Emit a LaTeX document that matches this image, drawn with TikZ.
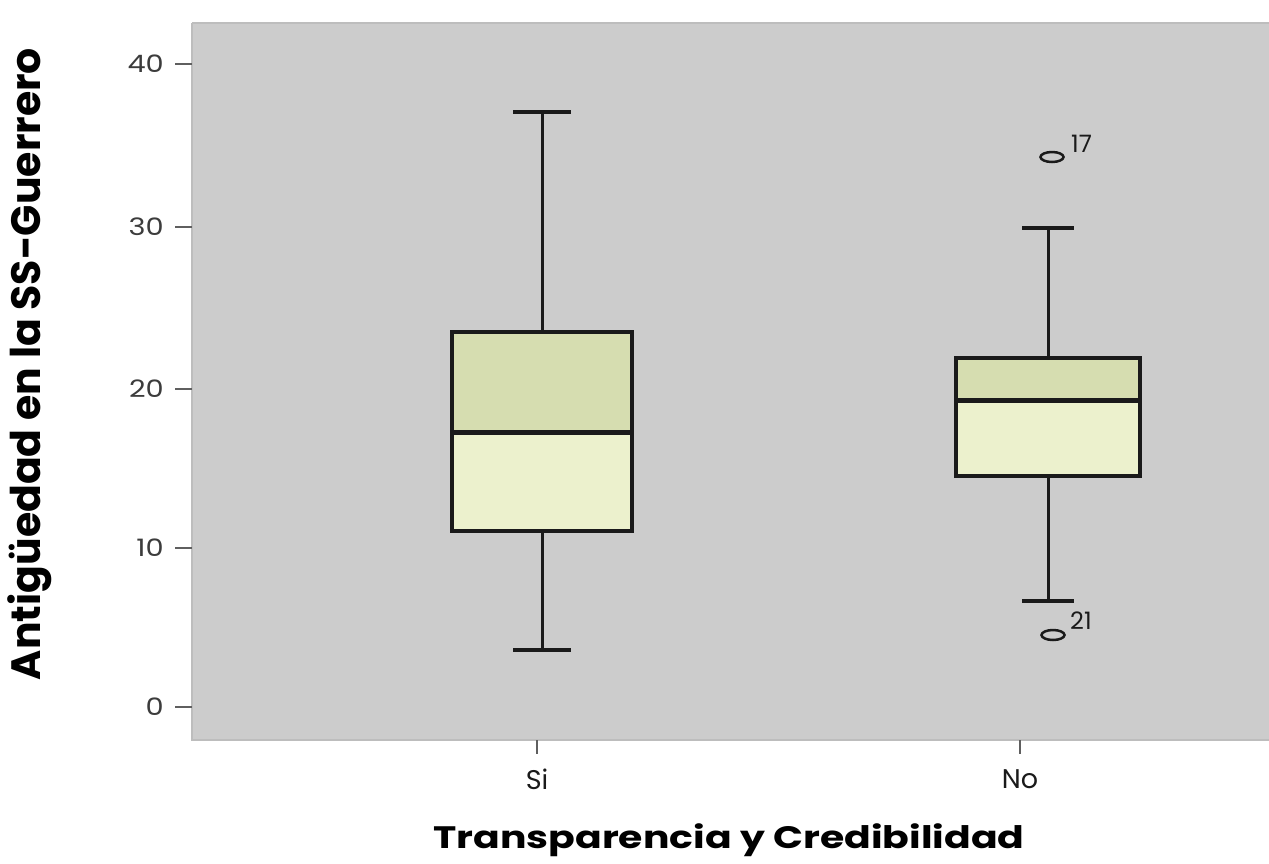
\documentclass[tikz,border=0pt]{standalone}
\usepackage{fontspec}
\usetikzlibrary{shapes.geometric}
\setmainfont{Poppins}
\definecolor{plotbg}{HTML}{CCCCCC}
\definecolor{frame}{HTML}{BDBDBD}
\definecolor{upperfill}{HTML}{D6DDB0}
\definecolor{lowerfill}{HTML}{ECF1CD}
\definecolor{ink}{HTML}{1A1A1A}
\begin{document}
\begin{tikzpicture}[x=1pt,y=-1pt,
  boxline/.style={draw=ink,line width=4pt},
  whisk/.style={draw=ink,line width=3pt},
  capline/.style={draw=ink,line width=4pt},
  outl/.style={draw=ink,line width=2.5pt,ellipse,minimum width=23pt,minimum height=10pt,inner sep=0pt},
  ticklab/.style={font=\fontsize{24}{26}\selectfont,text=ink!85,xscale=1.2},
  catlab/.style={font=\fontsize{27}{29}\selectfont,text=ink},
  outlab/.style={font=\fontsize{24}{25}\selectfont,text=ink,anchor=south west,inner sep=0pt},
  axtitle/.style={font=\fontsize{31}{33}\selectfont\bfseries,text=black}]
\useasboundingbox (0,0) rectangle (1269,863);
\fill[white] (0,0) rectangle (1269,863);
% plot area
\fill[plotbg] (192,23) rectangle (1269,740);
\draw[frame,line width=2pt] (192,23) -- (1269,23);
\draw[frame,line width=2pt] (192,23) -- (192,740) -- (1269,740);
% y ticks
\foreach \v/\y in {40/64,30/227,20/389,10/548,0/707}{
  \draw[ink!70,line width=1.5pt] (175,\y) -- (192,\y);
  \node[ticklab,anchor=east] (yt\v) at (168,\y) {\v};
}
% x ticks
\draw[ink!70,line width=1.5pt] (537,740) -- (537,754);
\draw[ink!70,line width=1.5pt] (1020,740) -- (1020,754);
\node[catlab] (cSi) at (537,779) {Si};
\node[catlab] (cNo) at (1020,779) {No};
% axis titles
\node[axtitle,xscale=1.27] (xtitle) at (729,840) {Transparencia y Credibilidad};
\node[axtitle,font=\fontsize{41}{43}\selectfont\bfseries,rotate=90] (ytitle) at (30,364) {Antigüedad en la SS-Guerrero};
% box Si
\coordinate (siTop) at (542,112);
\coordinate (siBot) at (542,650);
\coordinate (siQ3) at (542,332);
\coordinate (siQ1) at (542,531);
\draw[whisk] (siTop) -- (siQ3);
\draw[whisk] (siQ1) -- (siBot);
\draw[capline] (513,112) -- (571,112);
\draw[capline] (513,650) -- (571,650);
\fill[upperfill] (452,332) rectangle (632,432);
\fill[lowerfill] (452,432) rectangle (632,531);
\draw[boxline] (452,332) rectangle (632,531);
\draw[boxline,line width=5pt] (452,432) -- (632,432);
% box No
\coordinate (noTop) at (1048,228);
\coordinate (noBot) at (1048,601);
\coordinate (noQ3) at (1048,358);
\coordinate (noQ1) at (1048,476);
\draw[whisk] (noTop) -- (noQ3);
\draw[whisk] (noQ1) -- (noBot);
\draw[capline] (1022,228) -- (1074,228);
\draw[capline] (1022,601) -- (1074,601);
\fill[upperfill] (956,358) rectangle (1140,400);
\fill[lowerfill] (956,400) rectangle (1140,476);
\draw[boxline] (956,358) rectangle (1140,476);
\draw[boxline,line width=5pt] (956,400) -- (1140,400);
% outliers
\node[outl] (o17) at (1052,157) {};
\node[outlab] (l17) at (1071,153) {17};
\node[outl] (o21) at (1053,635) {};
\node[outlab] (l21) at (1070,630) {21};
\end{tikzpicture}
\end{document}
